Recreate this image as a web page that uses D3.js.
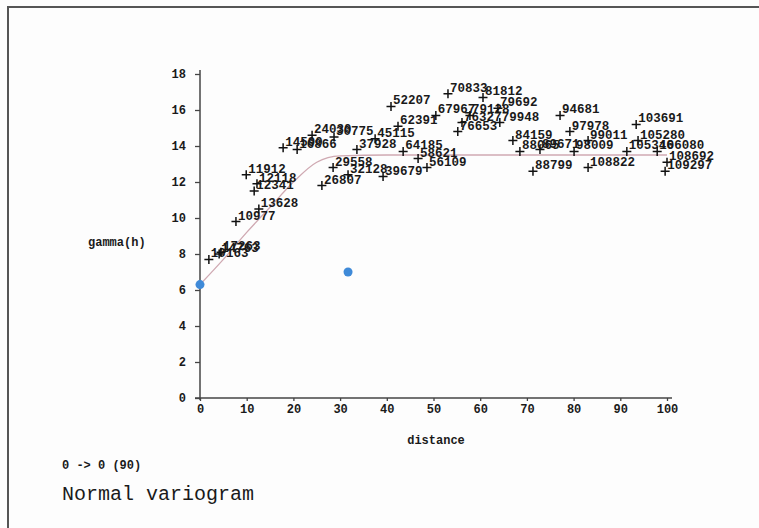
<!DOCTYPE html>
<html>
<head>
<meta charset="utf-8">
<script src="https://cdn.jsdelivr.net/npm/d3@7"></script>
<style>
  html, body { margin: 0; padding: 0; background: #fdfdfd; }
  svg { display: block; }
  text { font-family: "Liberation Mono", "DejaVu Sans Mono", monospace; fill: #1a1a1a; }
</style>
</head>
<body>
<svg id="chart" width="759" height="528"></svg>
<script>
// Experimental variogram: lag distance, semivariance and pair label per point
const lagDistance = [1.9, 4.1, 4.5, 7.7, 9.9, 12.2, 11.6, 12.6, 17.8, 20.8,
  24.0, 28.7, 26.1, 28.5, 31.7, 39.2, 33.6, 37.5, 40.9, 42.4,
  43.5, 46.7, 48.6, 53.1, 50.5, 55.2, 56.1, 57.8, 60.6, 63.8,
  64.2, 67.0, 68.5, 72.8, 71.3, 77.1, 79.2, 80.1, 83.1, 83.1,
  93.4, 93.8, 91.4, 97.9, 100.0, 99.6];
const semivariance = [7.7, 8.0, 8.1, 9.8, 12.4, 11.9, 11.5, 10.5, 13.9, 13.8,
  14.6, 14.5, 11.8, 12.8, 12.4, 12.3, 13.8, 14.4, 16.2, 15.1,
  13.7, 13.3, 12.8, 16.9, 15.7, 14.8, 15.3, 15.7, 16.7, 16.1,
  15.3, 14.3, 13.7, 13.8, 12.6, 15.7, 14.8, 13.7, 14.3, 12.8,
  15.2, 14.3, 13.7, 13.7, 13.1, 12.6];
const pointLabels = ["10163", "14763", "17263", "10977", "11912", "12118", "12341", "13628", "14590", "16866",
  "24030", "30775", "26807", "29558", "32128", "39679", "37928", "45115", "52207", "62391",
  "64185", "58621", "56109", "70833", "67967", "76653", "76327", "79128", "81812", "79692",
  "79948", "84159", "88065", "89671", "88799", "94681", "97978", "98009", "99011", "108822",
  "103691", "105280", "105346", "106080", "108692", "109297"];

// Highlighted samples (blue dots)
const markDistance = [0, 31.7];
const markGamma = [6.3, 7.0];

// Fitted model curve
const modelDistance = [0, 5, 10, 15, 20, 25, 30, 40, 100];
const modelGamma = [6.3, 7.7, 9.2, 10.6, 12.0, 13.1, 13.45, 13.5, 13.5];

// Axis ticks
const xTicks = [0, 10, 20, 30, 40, 50, 60, 70, 80, 90, 100];
const yTicks = [0, 2, 4, 6, 8, 10, 12, 14, 16, 18];

const svg = d3.select("#chart");

// outer frame
svg.append("rect")
  .attr("x", 8).attr("y", 7)
  .attr("width", 800).attr("height", 600)
  .attr("fill", "none").attr("stroke", "#555").attr("stroke-width", 2);

const x = d3.scaleLinear().domain([0, 100]).range([200, 667]);
const y = d3.scaleLinear().domain([0, 18]).range([398, 74]);

// axes
const gy = svg.append("g")
  .attr("transform", "translate(200,0)")
  .call(d3.axisLeft(y).tickValues(yTicks).tickSize(5).tickPadding(9).tickFormat(d3.format("d")));
const gx = svg.append("g")
  .attr("transform", "translate(0,398)")
  .call(d3.axisBottom(x).tickValues(xTicks).tickSize(3).tickPadding(3).tickFormat(d3.format("d")));

[gx, gy].forEach(g => {
  g.select(".domain").remove();
  g.selectAll(".tick line").attr("stroke", "#444").attr("stroke-width", 1.3);
  g.selectAll("text")
    .style("font-family", "'Liberation Mono', monospace")
    .style("font-size", "12px").style("font-weight", "bold").attr("fill", "#2a2a2a");
});

svg.append("line").attr("x1", 200).attr("x2", 200).attr("y1", 70).attr("y2", 400)
  .attr("stroke", "#444").attr("stroke-width", 1.5);
svg.append("line").attr("x1", 195).attr("x2", 672).attr("y1", 398).attr("y2", 398)
  .attr("stroke", "#444").attr("stroke-width", 1.5);

// model curve
const modelPts = modelDistance.map((d, i) => [d, modelGamma[i]]);
svg.append("path")
  .datum(modelPts)
  .attr("fill", "none")
  .attr("stroke", "#cfa9b2")
  .attr("stroke-width", 1.3)
  .attr("d", d3.line().x(d => x(d[0])).y(d => y(d[1])).curve(d3.curveMonotoneX));

// experimental points: cross + label
const pts = lagDistance.map((d, i) => ({ d, g: semivariance[i], label: pointLabels[i] }));
const pg = svg.append("g").selectAll("g").data(pts).join("g")
  .attr("transform", p => `translate(${x(p.d)},${y(p.g)})`);
pg.append("path")
  .attr("d", "M-4.5,0H4.5M0,-4.5V4.5")
  .attr("stroke", "#111").attr("stroke-width", 1.5);
pg.append("text")
  .attr("x", 2).attr("y", -2)
  .style("font-size", "12.5px")
  .style("font-weight", "bold")
  .attr("fill", "#222")
  .text(p => p.label);

// highlighted samples
svg.append("g").selectAll("circle")
  .data(markDistance.map((d, i) => [d, markGamma[i]]))
  .join("circle")
  .attr("cx", d => x(d[0])).attr("cy", d => y(d[1]))
  .attr("r", 4.5).attr("fill", "#3f8ad8");

// axis titles and captions
svg.append("text").attr("x", 88).attr("y", 246).style("font-size", "12px").style("font-weight", "bold").text("gamma(h)");
svg.append("text").attr("x", 436).attr("y", 444).attr("text-anchor", "middle").style("font-size", "12px").style("font-weight", "bold").text("distance");
svg.append("text").attr("x", 62).attr("y", 469).style("font-size", "12px").style("font-weight", "bold").text("0 -> 0 (90)");
svg.append("text").attr("x", 62).attr("y", 500).style("font-size", "20px").text("Normal variogram");
</script>
</body>
</html>
